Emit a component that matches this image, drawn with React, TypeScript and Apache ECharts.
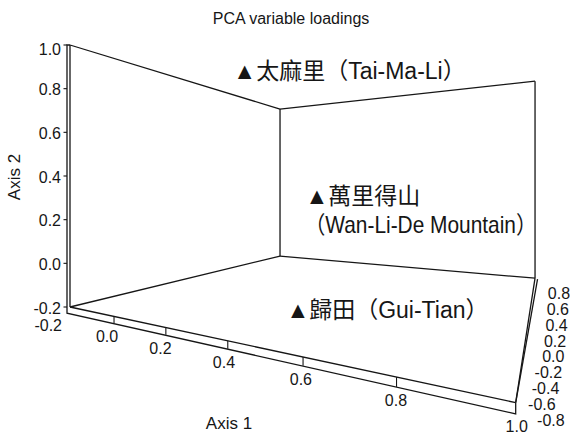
import React, { useEffect, useRef } from "react";
import * as echarts from "echarts";

// ---------- data ----------
const chartTitle = "PCA variable loadings";
const axis1Title = "Axis 1";
const axis2Title = "Axis 2";

const axis1Range = [-0.2, 1.0];
const axis2Range = [-0.2, 1.0];
const axis3Range = [-0.8, 0.8];

const axis1Ticks = [-0.2, 0.0, 0.2, 0.4, 0.6, 0.8, 1.0];
const axis2Ticks = [-0.2, 0.0, 0.2, 0.4, 0.6, 0.8, 1.0];
const axis3Ticks = [-0.8, -0.6, -0.4, -0.2, 0.0, 0.2, 0.4, 0.6, 0.8];

const loadingNames = ["太麻里", "萬里得山", "歸田"];
const loadingLatin = ["Tai-Ma-Li", "Wan-Li-De Mountain", "Gui-Tian"];
const loadingAxis1 = [0.26, 0.5, 0.51];
const loadingAxis2 = [0.87, 0.31, -0.11];
const loadingAxis3 = [-0.48, -0.48, -0.64];

// ---------- perspective camera (layout) ----------
const CAM = { x0: 70, ax: 212.6, az: 429, horizon: 191, e: 116, b: 262, dx: -0.452, dz: 0.782 };

function project(u: number, v: number, w: number): [number, number] {
  const s = (u - axis1Range[0]) / (axis1Range[1] - axis1Range[0]);
  const h = (v - axis2Range[0]) / (axis2Range[1] - axis2Range[0]);
  const t = (w - axis3Range[0]) / (axis3Range[1] - axis3Range[0]);
  const D = 1 + CAM.dx * s + CAM.dz * t;
  return [(CAM.x0 + CAM.ax * s + CAM.az * t) / D, CAM.horizon + (CAM.e - CAM.b * h) / D];
}

const FONT = "'Liberation Sans', Arial, Helvetica, sans-serif";
const LABEL_FONT = "'Liberation Sans', 'Noto Sans CJK TC', sans-serif";
const INK = "#161616";

function txt(x: number, y: number, text: string, size: number, align: string, valign: string, extra: any = {}) {
  return {
    type: "text",
    x,
    y,
    silent: true,
    ...extra,
    style: {
      text,
      fontSize: size,
      fontFamily: FONT,
      fill: INK,
      align,
      verticalAlign: valign,
      textAlign: align,
      textVerticalAlign: valign,
    },
  };
}

function buildFrame() {
  const els: any[] = [];
  const line = (p: number[], q: number[], w = 1.3) =>
    els.push({
      type: "line",
      silent: true,
      shape: { x1: p[0], y1: p[1], x2: q[0], y2: q[1] },
      style: { stroke: INK, lineWidth: w },
    });
  const [u0, u1] = axis1Range;
  const [v0, v1] = axis2Range;
  const [w0, w1] = axis3Range;
  const A = project(u0, v1, w0);
  const A_ = project(u0, v0, w0);
  const B = project(u0, v1, w1);
  const B_ = project(u0, v0, w1);
  const C = project(u1, v1, w1);
  const C_ = project(u1, v0, w1);
  const D_ = project(u1, v0, w0);

  // walls and floor
  line(A, B);
  line(A_, B_);
  line(B, B_);
  line(B, C);
  line(B_, C_);
  line(C, C_);
  line(A_, D_);
  line(C_, D_);
  line(A, A_);

  // axis bands
  const gap = 3;
  const vBand = v0 - 0.028;
  const A2 = project(u0, vBand, w0);
  const D2 = project(u1, vBand, w0);
  els.push({
    type: "polyline",
    silent: true,
    shape: {
      points: [
        [A[0], A[1]],
        [A[0] - gap, A[1]],
        [A[0] - gap, A2[1]],
        [D2[0], D2[1]],
        [D_[0], D_[1]],
      ],
    },
    style: { stroke: INK, lineWidth: 1.3, fill: null },
  });
  line(D_, [C_[0] + 2.5, C_[1] + 1]);

  // axis 2 ticks & labels
  axis2Ticks.forEach((v) => {
    const p = project(u0, v, w0);
    line([A[0] - gap, p[1]], [A[0] - gap - 3.5, p[1]], 1.1);
    els.push(txt(A[0] - 9, Math.max(p[1] + 1, A[1] + 4), v.toFixed(1), 16, "right", "middle"));
  });

  // axis 1 ticks & labels
  axis1Ticks.forEach((u, i) => {
    const p = project(u, v0, w0);
    const q = project(u, vBand, w0);
    if (i > 0 && i < axis1Ticks.length - 1) line(p, q, 1.1);
    const s = (u - u0) / (u1 - u0);
    if (i === 0) {
      els.push(txt(A[0] - 8, p[1] + 18, u.toFixed(1), 16, "right", "middle"));
    } else {
      els.push(txt(p[0] - 8.6 + 9.6 * s, p[1] + 19 + 5 * s, u.toFixed(1), 16, "center", "middle"));
    }
  });

  // axis 3 labels
  const yFront = project(u1, v0, w0)[1] + 18;
  const yBack = project(u1, v0, w1)[1] + 15;
  axis3Ticks.forEach((w, i) => {
    const p = project(u1, v0, w);
    const t = (w - w0) / (w1 - w0);
    const y = yFront + (yBack - yFront) * t;
    const x = p[0] + 35 + (i === 0 ? 14 : 0);
    els.push(txt(x, y, w.toFixed(1), 16, "right", "middle"));
  });

  // titles
  els.push(txt(291, 18, chartTitle, 16, "center", "middle"));
  els.push(txt(229, 423, axis1Title, 17, "center", "middle"));
  els.push(txt(14, 177, axis2Title, 17, "center", "middle", { rotation: Math.PI / 2 }));
  return els;
}

const loadingData = loadingNames.map((_, i) => [loadingAxis1[i], loadingAxis2[i], loadingAxis3[i], i]);

export default function App() {
  const ref = useRef<HTMLDivElement>(null);
  useEffect(() => {
    if (!ref.current) return;
    const chart = echarts.init(ref.current, undefined, { renderer: "svg" });
    const labelStyle = (text: string, size = 23) => ({
      text,
      fontSize: size,
      fontFamily: LABEL_FONT,
      fill: INK,
      align: "left",
      verticalAlign: "middle",
      textAlign: "left",
      textVerticalAlign: "middle",
    });
    chart.setOption({
      animation: false,
      backgroundColor: "#ffffff",
      graphic: { elements: buildFrame() },
      series: [
        {
          type: "custom",
          coordinateSystem: "none",
          data: loadingData,
          silent: true,
          renderItem: (_params: any, api: any) => {
            const i = api.value(3);
            const [x, y] = project(api.value(0), api.value(1), api.value(2));
            const name = loadingNames[i];
            const latin = loadingLatin[i];
            const wrap = latin.length > 12;
            const children: any[] = [
              {
                type: "text",
                x: x - 8,
                y,
                style: labelStyle("▲" + name + (wrap ? "" : "（" + latin + "）")),
              },
            ];
            if (wrap) {
              children.push({
                type: "text",
                x: x - 9,
                y: y + 29,
                scaleX: 0.87,
                style: labelStyle("（" + latin + "）", 24),
              });
            }
            return { type: "group", children };
          },
        },
      ],
    });
    return () => chart.dispose();
  }, []);
  return (
    <div
      ref={ref}
      style={{ position: "fixed", left: 0, top: 0, width: 570, height: 435, background: "#fff" }}
    />
  );
}
